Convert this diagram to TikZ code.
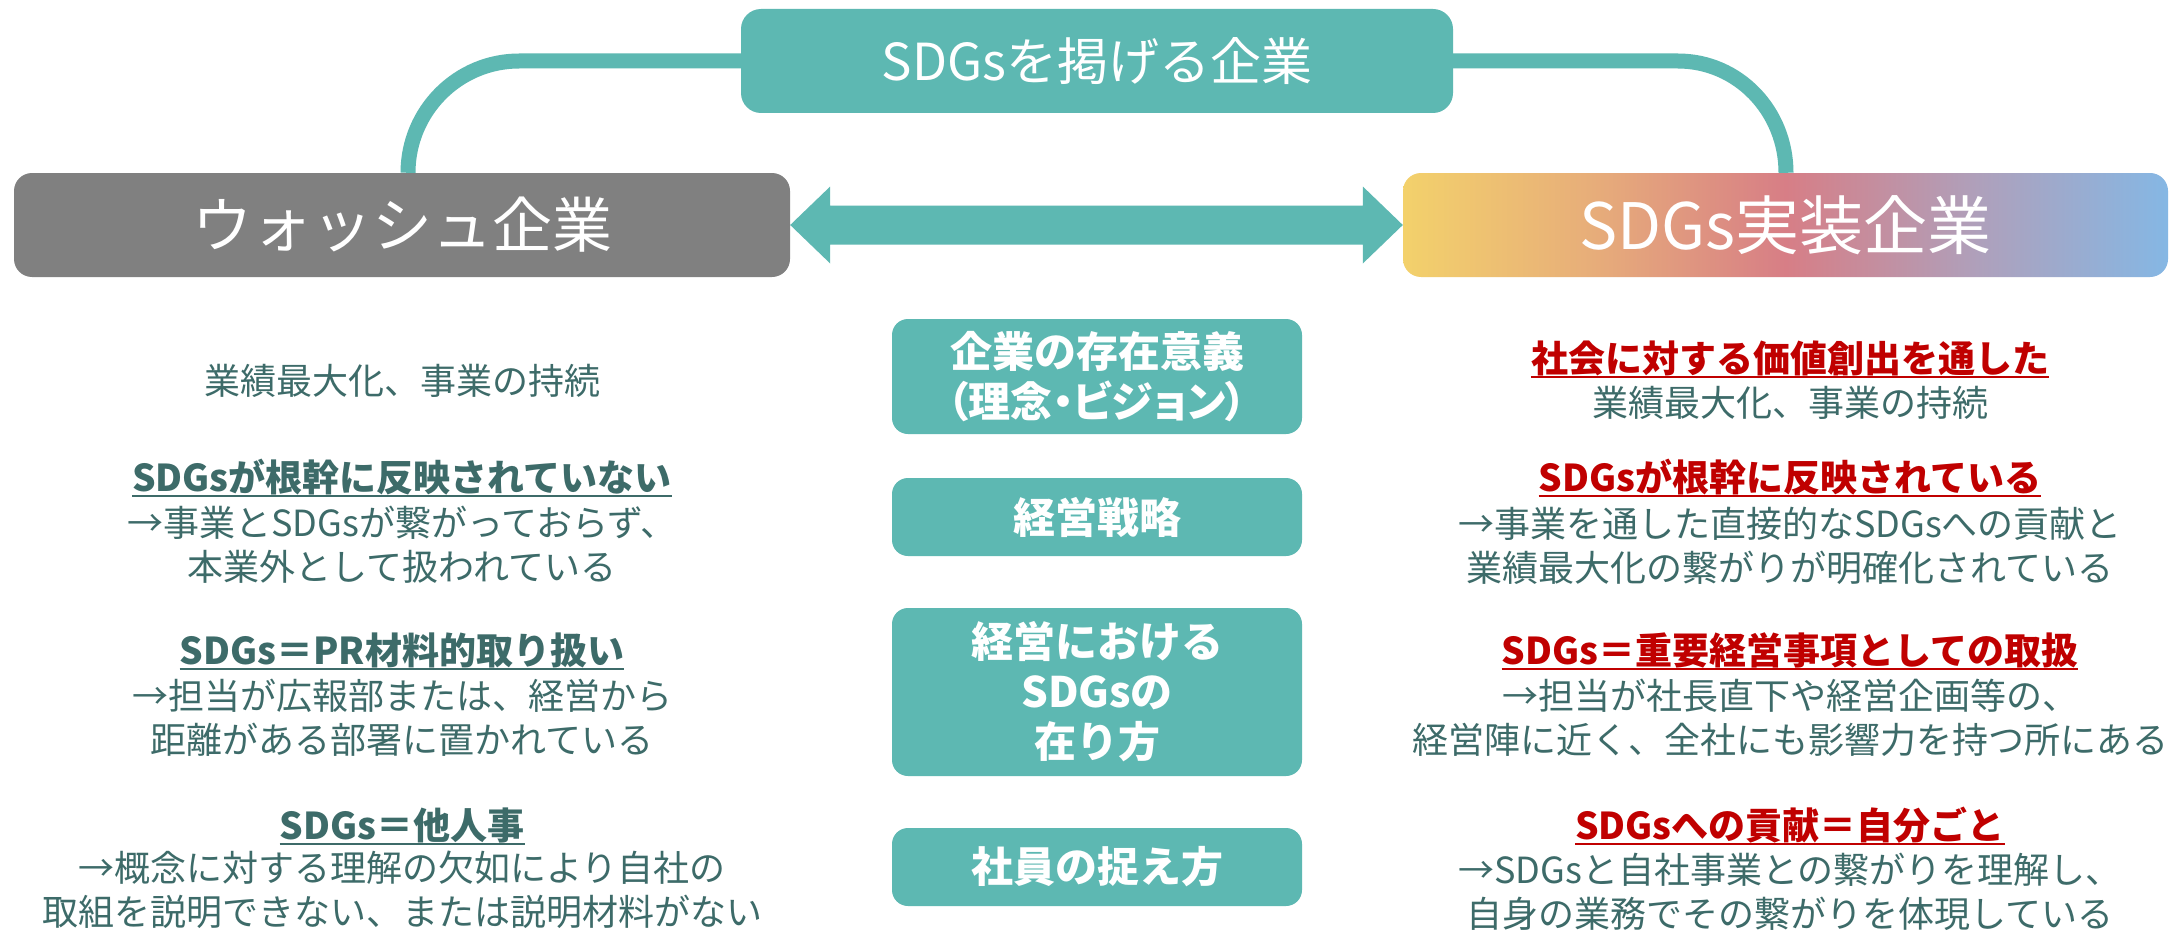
\documentclass[tikz,border=0pt]{standalone}
\usepackage{fontspec}
\setmainfont{Noto Sans CJK JP}
\newfontfamily\jpp[RawFeature=+palt]{Noto Sans CJK JP}
\usetikzlibrary{calc}
\definecolor{tealc}{HTML}{5DB8B2}
\definecolor{greyc}{HTML}{808080}
\definecolor{txt}{HTML}{3D6B69}
\definecolor{redc}{HTML}{C00000}
\pgfdeclarehorizontalshading{sdg}{100bp}{rgb(0bp)=(0.953,0.820,0.420); rgb(25bp)=(0.953,0.820,0.420); rgb(37.5bp)=(0.906,0.678,0.478); rgb(50bp)=(0.843,0.494,0.525); rgb(62.5bp)=(0.686,0.627,0.733); rgb(75bp)=(0.522,0.718,0.894); rgb(100bp)=(0.522,0.718,0.894)}
\begin{document}
\begin{tikzpicture}[x=1pt,y=-1pt,
  bigbox/.style={rounded corners=18pt, minimum height=104pt, text=white, inner sep=0pt, font=\fontsize{60}{60}\selectfont},
  cbox/.style={fill=tealc, rounded corners=16pt, minimum width=410pt, text=white, inner sep=0pt, align=center, font=\bfseries\fontsize{42}{50}\selectfont},
  conn/.style={draw=tealc, line width=15pt},
  body/.style={text=txt, align=center, inner sep=0pt, font=\fontsize{36}{44}\selectfont},
  headL/.style={text=txt, anchor=base, inner sep=0pt, font=\bfseries\fontsize{37}{44}\selectfont},
  headR/.style={text=redc, anchor=base, inner sep=0pt, font=\bfseries\fontsize{37}{44}\selectfont},
  ulL/.style={draw=txt, line width=2.5pt},
  ulR/.style={draw=redc, line width=2.5pt}]
\useasboundingbox[fill=white] (0,0) rectangle (2173,931);

% top boxes
\node[fill=tealc, rounded corners=20pt, minimum width=712pt, minimum height=104pt, text=white, inner sep=0pt, font=\fontsize{51}{51}\selectfont] (top) at (1097,61) {SDGsを掲げる企業};
\node[bigbox, fill=greyc, minimum width=776pt] (grey) at (402,225) {ウォッシュ企業};
\node[bigbox, shading=sdg, minimum width=765pt, font=\fontsize{64}{64}\selectfont] (grad) at (1785.5,225) {SDGs実装企業};

% connectors
\draw[conn] ([xshift=6pt]grey.north) .. controls +(0,-62) and +(-61,0) .. (519,61) -- (top.west);
\draw[conn] (top.east) -- (1678,61) .. controls +(60,0) and +(0,-62) .. ([xshift=0.5pt]grad.north);

% double arrow
\fill[tealc] (grey.east)
  -- ($(grey.east)+(40,-38.5)$) -- ($(grey.east)+(40,-19.5)$)
  -- ($(grad.west)+(-40,-19.5)$) -- ($(grad.west)+(-40,-38.5)$)
  -- (grad.west)
  -- ($(grad.west)+(-40,38.5)$) -- ($(grad.west)+(-40,19.5)$)
  -- ($(grey.east)+(40,19.5)$) -- ($(grey.east)+(40,38.5)$) -- cycle;

% center boxes
\node[cbox, minimum height=115pt] (c1) at (1097,376.5) {企業の存在意義\\{\jpp （理念・ビジョン）}};
\node[cbox, minimum height=78pt] (c2) at (1097,517) {経営戦略};
\node[cbox, minimum height=168pt] (c3) at (1097,692) {経営における\\SDGsの\\在り方};
\node[cbox, minimum height=78pt] (c4) at (1097,867) {社員の捉え方};

% left column
\node[body] (l1) at (402,381) {業績最大化、事業の持続};
\node[headL] (l2h) at (402,491) {SDGsが根幹に反映されていない};
\draw[ulL] ([yshift=-5pt]l2h.base west) -- ([yshift=-5pt]l2h.base east);
\node[body] (l2b) at (402,544.5) {→事業とSDGsが繋がっておらず、\\本業外として扱われている};
\node[headL] (l3h) at (402,664) {SDGs＝PR材料的取り扱い};
\draw[ulL] ([yshift=-5pt]l3h.base west) -- ([yshift=-5pt]l3h.base east);
\node[body] (l3b) at (402,717.5) {→担当が広報部または、経営から\\距離がある部署に置かれている};
\node[headL] (l4h) at (402,839) {SDGs＝他人事};
\draw[ulL] ([yshift=-5pt]l4h.base west) -- ([yshift=-5pt]l4h.base east);
\node[body] (l4b) at (402,889.5) {→概念に対する理解の欠如により自社の\\取組を説明できない、または説明材料がない};

% right column
\node[headR] (r1h) at (1790,372) {社会に対する価値創出を通した};
\draw[ulR] ([yshift=-5pt]r1h.base west) -- ([yshift=-5pt]r1h.base east);
\node[body] (r1b) at (1790,403) {業績最大化、事業の持続};
\node[headR] (r2h) at (1790,491) {SDGsが根幹に反映されている};
\draw[ulR] ([yshift=-5pt]r2h.base west) -- ([yshift=-5pt]r2h.base east);
\node[body] (r2b) at (1790,545.5) {→事業を通した直接的なSDGsへの貢献と\\業績最大化の繋がりが明確化されている};
\node[headR] (r3h) at (1790,664) {SDGs＝重要経営事項としての取扱};
\draw[ulR] ([yshift=-5pt]r3h.base west) -- ([yshift=-5pt]r3h.base east);
\node[body] (r3b) at (1790,717.5) {→担当が社長直下や経営企画等の、\\経営陣に近く、全社にも影響力を持つ所にある};
\node[headR] (r4h) at (1790,839) {SDGsへの貢献＝自分ごと};
\draw[ulR] ([yshift=-5pt]r4h.base west) -- ([yshift=-5pt]r4h.base east);
\node[body] (r4b) at (1790,891.5) {→SDGsと自社事業との繋がりを理解し、\\自身の業務でその繋がりを体現している};
\end{tikzpicture}
\end{document}
